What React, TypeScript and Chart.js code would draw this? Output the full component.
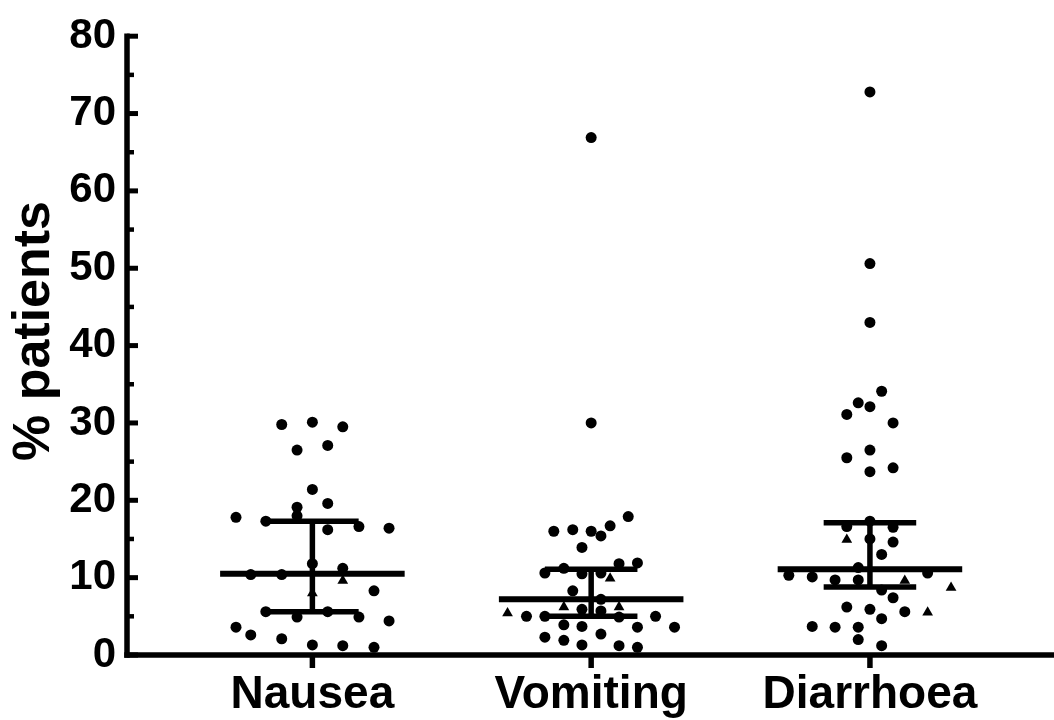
import { useEffect, useRef } from "react";
import { Chart, registerables } from "chart.js";

Chart.register(...registerables);

// ---------- data ----------
const categories = ["Nausea", "Vomiting", "Diarrhoea"];
const yAxisTitle = "% patients";
const yMajorTicks = [0, 10, 20, 30, 40, 50, 60, 70, 80];
const yMinorTicks = [5, 15, 25, 35, 45, 55, 65, 75];

const medians = [10.5, 7.2, 11.1];
const lowerQuartiles = [5.6, 5.0, 8.8];
const upperQuartiles = [17.3, 11.1, 17.1];

// circles (value, jitter offset in category units)
const nauseaCircleValues = [29.8, 30.1, 29.5, 26.5, 27.1, 21.4, 19.1, 19.6, 17.8, 17.3, 18.0, 16.2, 16.6, 16.4, 11.8, 11.2, 10.4, 10.4, 8.3, 5.6, 4.9, 5.6, 4.9, 4.4, 3.6, 2.6, 2.1, 1.3, 1.2, 1.0];
const nauseaCircleOffsets = [-0.11, 0, 0.109, -0.055, 0.055, 0, -0.055, 0.055, -0.274, -0.167, -0.055, 0.055, 0.167, 0.275, 0, 0.109, -0.221, -0.11, 0.221, -0.167, -0.055, 0.055, 0.167, 0.275, -0.274, -0.221, -0.11, 0, 0.109, 0.221];
const nauseaTriangleValues = [9.6, 8.0];
const nauseaTriangleOffsets = [0.109, 0];

const vomitingCircleValues = [66.9, 30.0, 17.9, 16.0, 16.2, 16.0, 15.4, 16.7, 13.9, 11.8, 11.9, 10.6, 11.2, 10.5, 10.6, 8.3, 7.2, 5.0, 5.0, 5.9, 5.7, 4.9, 5.0, 3.6, 3.9, 3.7, 3.6, 2.3, 1.9, 2.7, 1.3, 1.2, 1.0];
const vomitingCircleOffsets = [0, 0, 0.133, -0.134, -0.066, 0, 0.035, 0.068, -0.033, 0.1, 0.166, -0.166, -0.098, -0.033, 0.035, -0.066, 0.035, -0.232, -0.166, -0.033, 0.035, 0.1, 0.231, 0.299, -0.098, -0.033, 0.166, -0.166, -0.098, 0.035, -0.033, 0.1, 0.166];
const vomitingTriangleValues = [9.9, 5.4, 6.2, 6.2];
const vomitingTriangleOffsets = [0.068, -0.3, -0.098, 0.1];

const diarrhoeaCircleValues = [72.8, 50.6, 43.0, 34.1, 32.6, 32.1, 31.1, 30.0, 25.5, 26.5, 23.7, 24.2, 16.6, 17.3, 16.5, 15.0, 14.6, 13.0, 11.3, 10.3, 10.1, 9.7, 9.7, 10.6, 8.4, 7.4, 6.2, 5.9, 4.7, 5.6, 3.7, 3.6, 3.6, 2.0, 1.2];
const diarrhoeaCircleOffsets = [0, 0, 0, 0.042, -0.042, 0, -0.083, 0.083, -0.083, 0, 0, 0.083, -0.083, 0, 0.083, 0, 0.083, 0.042, -0.042, -0.291, -0.207, -0.125, -0.042, 0.207, 0.042, 0.083, -0.083, 0, 0.042, 0.125, -0.207, -0.125, -0.042, -0.042, 0.042];
const diarrhoeaTriangleValues = [14.9, 9.6, 8.7, 5.5];
const diarrhoeaTriangleOffsets = [-0.083, 0.125, 0.291, 0.207];

// ---------- helpers ----------
const FONT = '"Liberation Sans", Arial, Helvetica, sans-serif';
const MEDIAN_HALF = 0.331;
const CAP_HALF = 0.166;

type P = { x: number; y: number | null };

function points(cat: number, values: number[], offsets: number[]): P[] {
  return values.map((v, i) => ({ x: cat + offsets[i], y: v }));
}

function segments(list: [number, number, number, number][]): P[] {
  const out: P[] = [];
  list.forEach(([x1, y1, x2, y2]) => {
    out.push({ x: x1, y: y1 }, { x: x2, y: y2 }, { x: (x1 + x2) / 2, y: null });
  });
  return out;
}

const axesPlugin = {
  id: "customAxes",
  afterDraw(chart: any) {
    const { ctx, chartArea, scales } = chart;
    const xs = scales.x;
    const ys = scales.y;
    const lw = 5.5;
    ctx.save();
    ctx.strokeStyle = "#000";
    ctx.lineCap = "butt";
    // y axis line
    const x0 = chartArea.left;
    const yBottom = ys.getPixelForValue(0);
    const yTop = ys.getPixelForValue(80);
    ctx.lineWidth = lw;
    ctx.beginPath();
    ctx.moveTo(x0, yBottom + lw / 2);
    ctx.lineTo(x0, yTop - lw / 2);
    ctx.stroke();
    // major ticks (inward)
    ctx.lineWidth = 5;
    yMajorTicks.forEach((v) => {
      const py = ys.getPixelForValue(v);
      ctx.beginPath();
      ctx.moveTo(x0, py);
      ctx.lineTo(x0 + 11, py);
      ctx.stroke();
    });
    ctx.lineWidth = 4.5;
    yMinorTicks.forEach((v) => {
      const py = ys.getPixelForValue(v);
      ctx.beginPath();
      ctx.moveTo(x0, py);
      ctx.lineTo(x0 + 7, py);
      ctx.stroke();
    });
    // x axis line
    ctx.lineWidth = lw;
    ctx.beginPath();
    ctx.moveTo(x0 - lw / 2, yBottom);
    ctx.lineTo(chart.width, yBottom);
    ctx.stroke();
    // x ticks (outward)
    ctx.lineWidth = 5.5;
    categories.forEach((_, i) => {
      const px = xs.getPixelForValue(i + 1);
      ctx.beginPath();
      ctx.moveTo(px, yBottom);
      ctx.lineTo(px, yBottom + 13);
      ctx.stroke();
    });
    // y title
    ctx.fillStyle = "#000";
    ctx.font = `bold 52px ${FONT}`;
    ctx.textAlign = "center";
    ctx.textBaseline = "middle";
    ctx.translate(35, 331);
    ctx.rotate(-Math.PI / 2);
    ctx.fillText(yAxisTitle, 0, 0);
    ctx.restore();
  },
};

export default function App() {
  const ref = useRef<HTMLCanvasElement | null>(null);

  useEffect(() => {
    if (!ref.current) return;

    const circles: P[] = [
      ...points(1, nauseaCircleValues, nauseaCircleOffsets),
      ...points(2, vomitingCircleValues, vomitingCircleOffsets),
      ...points(3, diarrhoeaCircleValues, diarrhoeaCircleOffsets),
    ];
    const triangles: P[] = [
      ...points(1, nauseaTriangleValues, nauseaTriangleOffsets),
      ...points(2, vomitingTriangleValues, vomitingTriangleOffsets),
      ...points(3, diarrhoeaTriangleValues, diarrhoeaTriangleOffsets),
    ];
    const medianSegs = segments(
      medians.map((m, i) => [i + 1 - MEDIAN_HALF, m, i + 1 + MEDIAN_HALF, m] as [number, number, number, number])
    );
    const capSegs = segments([
      ...upperQuartiles.map((q, i) => [i + 1 - CAP_HALF, q, i + 1 + CAP_HALF, q] as [number, number, number, number]),
      ...lowerQuartiles.map((q, i) => [i + 1 - CAP_HALF, q, i + 1 + CAP_HALF, q] as [number, number, number, number]),
      ...upperQuartiles.map((q, i) => [i + 1, lowerQuartiles[i], i + 1, q] as [number, number, number, number]),
    ]);

    const chart = new Chart(ref.current, {
      type: "scatter",
      data: {
        datasets: [
          {
            data: circles as any,
            pointStyle: "circle",
            pointRadius: 5.5,
            pointBorderWidth: 0,
            backgroundColor: "#000",
            borderColor: "#000",
          },
          {
            data: triangles as any,
            pointStyle: "triangle",
            pointRadius: 6.2,
            pointBorderWidth: 0,
            backgroundColor: "#000",
            borderColor: "#000",
          },
          {
            data: medianSegs as any,
            showLine: true,
            spanGaps: false,
            pointRadius: 0,
            borderWidth: 6,
            borderColor: "#000",
            borderCapStyle: "butt",
          } as any,
          {
            data: capSegs as any,
            showLine: true,
            spanGaps: false,
            pointRadius: 0,
            borderWidth: 5.5,
            borderColor: "#000",
            borderCapStyle: "butt",
          } as any,
        ],
      },
      options: {
        animation: false,
        responsive: false,
        devicePixelRatio: 1,
        layout: { padding: { top: 33, left: 0, right: 0, bottom: 0 } },
        plugins: { legend: { display: false }, tooltip: { enabled: false } },
        scales: {
          x: {
            type: "linear",
            min: 0.335,
            max: 3.638,
            grid: { display: false, drawTicks: false },
            border: { display: false },
            afterFit: (s: any) => {
              s.height = 65;
            },
            afterBuildTicks: (s: any) => {
              s.ticks = categories.map((_, i) => ({ value: i + 1 }));
            },
            ticks: {
              color: "#000",
              padding: 13,
              font: { family: FONT, size: 46, weight: "bold" },
              callback: (v: any) => categories[Math.round(Number(v)) - 1] ?? "",
            },
          },
          y: {
            type: "linear",
            min: 0,
            max: 80,
            grid: { display: false, drawTicks: false },
            border: { display: false },
            afterFit: (s: any) => {
              s.width = 127;
            },
            afterBuildTicks: (s: any) => {
              s.ticks = yMajorTicks.map((v) => ({ value: v }));
            },
            ticks: {
              color: "#000",
              padding: 11,
              font: { family: FONT, size: 42, weight: "bold" },
            },
          },
        },
      },
      plugins: [axesPlugin],
    });

    return () => chart.destroy();
  }, []);

  return (
    <div style={{ position: "absolute", left: 0, top: 0, width: 1054, height: 720, background: "#fff" }}>
      <canvas ref={ref} width={1054} height={720} style={{ width: 1054, height: 720 }} />
    </div>
  );
}
